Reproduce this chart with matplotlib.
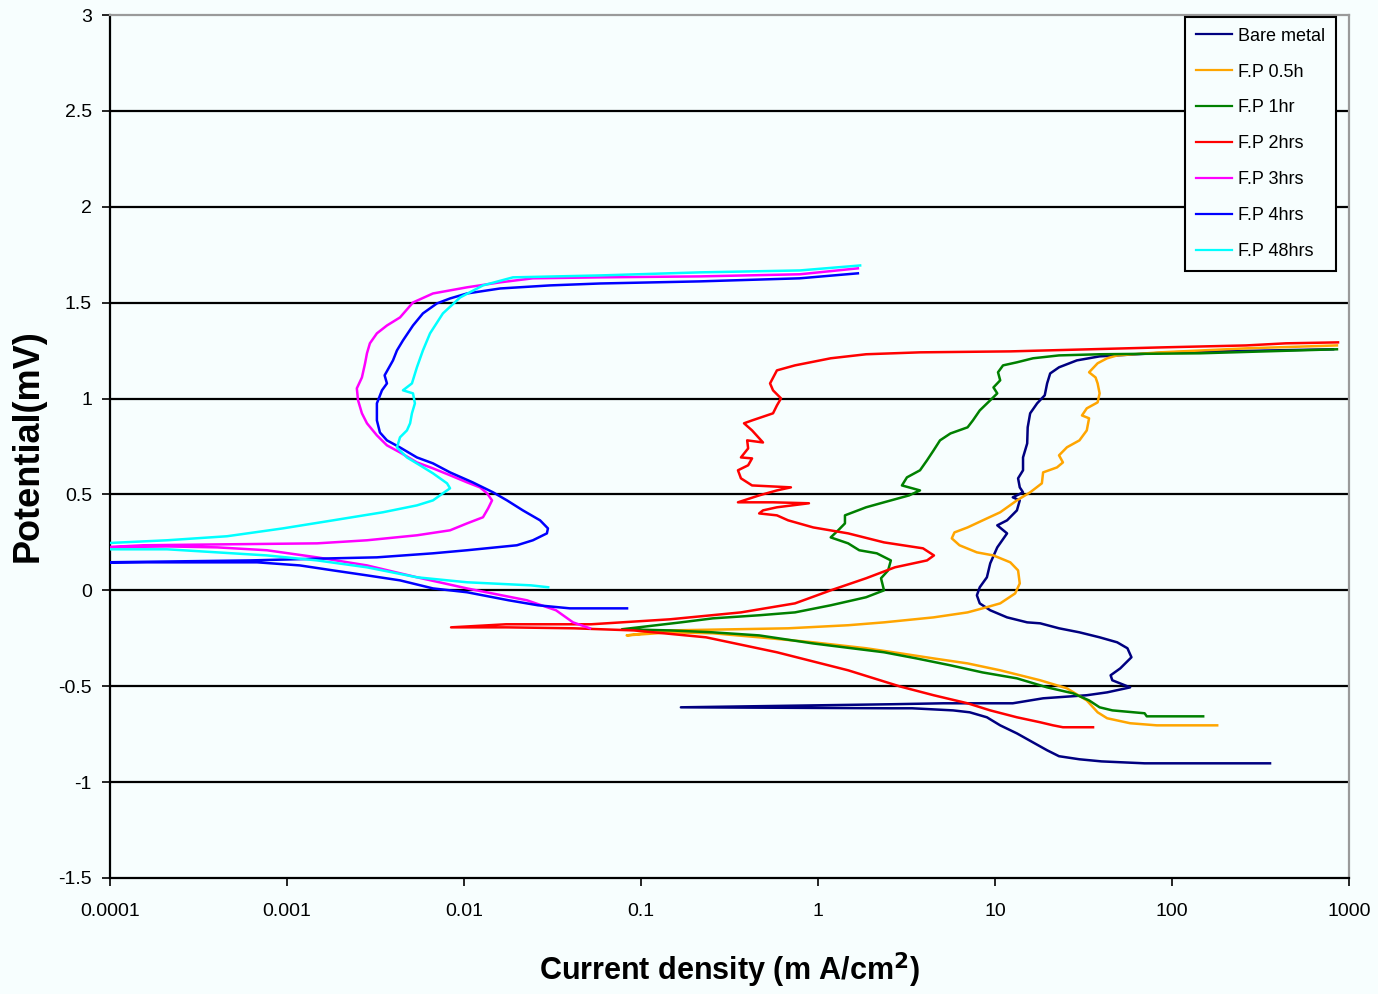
import matplotlib
matplotlib.use("Agg")
import matplotlib.pyplot as plt
from matplotlib.ticker import FixedLocator, NullLocator

plt.rcParams['font.family'] = ['Liberation Sans', 'DejaVu Sans']

# ---------------- data (current density mA/cm2, potential) ----------------
bare_i = [358, 70, 40, 30, 23, 19.7, 16.4, 13.3, 10.7, 9.0, 7.2, 5.8, 3.4, 2.6, 0.168, 2.58, 5.1, 12.6,
          18.7, 33, 43, 58, 46, 45, 51, 59, 56, 49, 39, 30, 23, 18, 15.2, 11.7, 9.4, 8.2, 7.9, 8.2, 9.0,
          9.4, 10.3, 11.7, 10.3, 11.7, 13.3, 13.8, 12.6, 14.4, 13.8, 13.5, 14.4, 14.4, 15.2, 15.3, 15.8,
          17.3, 19.1, 19.7, 20.5, 23, 29, 39, 97, 813]
bare_e = [-0.902, -0.902, -0.892, -0.881, -0.865, -0.834, -0.793, -0.746, -0.704, -0.662, -0.636, -0.626,
          -0.615, -0.615, -0.610, -0.594, -0.589, -0.589, -0.563, -0.547, -0.532, -0.506, -0.469, -0.443,
          -0.407, -0.349, -0.302, -0.271, -0.245, -0.219, -0.198, -0.172, -0.167, -0.141, -0.104, -0.068,
          -0.026, 0.016, 0.068, 0.141, 0.224, 0.297, 0.339, 0.365, 0.417, 0.469, 0.485, 0.511, 0.537,
          0.584, 0.626, 0.693, 0.766, 0.850, 0.923, 0.975, 1.017, 1.079, 1.131, 1.163, 1.199, 1.220,
          1.241, 1.257]

fp05_i = [180, 82, 58, 43, 38, 33, 25.5, 18, 10.7, 7.0, 4.5, 2.9, 1.87, 0.94, 0.465, 0.255, 0.146,
          0.083, 0.146, 0.678, 1.48, 2.36, 4.5, 7.0, 8.5, 10.7, 13.0, 13.8, 13.5, 12.2, 9.8, 7.9, 6.3,
          5.7, 5.9, 7.0, 9.0, 10.7, 13.3, 15.8, 18.4, 18.7, 22.4, 24.2, 23, 25.5, 30, 33, 34, 31, 33,
          38, 39, 38, 37, 34, 38, 43, 49, 86, 265, 855]
fp05_e = [-0.704, -0.704, -0.693, -0.667, -0.636, -0.574, -0.511, -0.469, -0.417, -0.381, -0.355,
          -0.328, -0.302, -0.271, -0.245, -0.224, -0.219, -0.235, -0.209, -0.198, -0.182, -0.167,
          -0.141, -0.115, -0.094, -0.068, -0.016, 0.036, 0.104, 0.146, 0.182, 0.198, 0.235, 0.271,
          0.302, 0.328, 0.375, 0.407, 0.469, 0.511, 0.558, 0.615, 0.641, 0.667, 0.704, 0.746, 0.782,
          0.834, 0.897, 0.912, 0.949, 0.980, 1.027, 1.079, 1.110, 1.137, 1.184, 1.210, 1.225, 1.241,
          1.262, 1.277]

fp1_i = [150, 72, 70, 46, 39, 34, 27.6, 19.7, 13.3, 8.5, 5.6, 3.6, 2.36, 0.94, 0.465, 0.255, 0.146,
         0.078, 0.168, 0.255, 0.465, 0.741, 1.18, 1.87, 2.36, 2.27, 2.49, 2.58, 2.15, 1.71, 1.48, 1.18,
         1.30, 1.42, 1.42, 1.87, 2.36, 3.27, 3.77, 2.98, 3.18, 3.77, 4.13, 4.5, 4.89, 5.6, 7.0, 7.5,
         8.2, 9.4, 10.3, 9.8, 10.7, 10.4, 11.1, 13.3, 16.4, 23, 39, 144, 855]
fp1_e = [-0.657, -0.657, -0.641, -0.626, -0.610, -0.574, -0.537, -0.506, -0.459, -0.428, -0.391,
         -0.355, -0.323, -0.277, -0.235, -0.219, -0.209, -0.203, -0.167, -0.146, -0.130, -0.115,
         -0.078, -0.036, 0.0, 0.063, 0.104, 0.156, 0.193, 0.209, 0.245, 0.276, 0.313, 0.349, 0.391,
         0.433, 0.459, 0.495, 0.521, 0.547, 0.589, 0.626, 0.678, 0.730, 0.782, 0.818, 0.850, 0.886,
         0.938, 0.991, 1.027, 1.058, 1.095, 1.137, 1.173, 1.189, 1.210, 1.225, 1.231, 1.236, 1.257]

fp2_i = [35.8, 24.2, 21.3, 18, 13.3, 9.4, 7.0, 4.5, 2.9, 1.48, 0.586, 0.233, 0.091, 0.0418, 0.0173,
         0.00845, 0.0173, 0.0522, 0.146, 0.367, 0.741, 1.18, 1.87, 2.72, 4.13, 4.52, 3.92, 2.36, 1.48,
         0.94, 0.678, 0.586, 0.465, 0.489, 0.586, 0.889, 0.557, 0.353, 0.465, 0.586, 0.703, 0.424,
         0.367, 0.353, 0.403, 0.424, 0.367, 0.403, 0.398, 0.489, 0.424, 0.382, 0.424, 0.557, 0.586,
         0.618, 0.557, 0.536, 0.586, 0.741, 1.18, 1.87, 3.77, 12.2, 89, 262, 440, 867]
fp2_e = [-0.714, -0.714, -0.704, -0.688, -0.662, -0.626, -0.589, -0.547, -0.501, -0.417, -0.323,
         -0.245, -0.209, -0.198, -0.193, -0.193, -0.177, -0.177, -0.151, -0.115, -0.068, 0.0, 0.063,
         0.120, 0.156, 0.182, 0.219, 0.250, 0.297, 0.328, 0.365, 0.391, 0.401, 0.417, 0.433, 0.454,
         0.459, 0.459, 0.495, 0.521, 0.537, 0.547, 0.584, 0.626, 0.652, 0.688, 0.693, 0.740, 0.782,
         0.771, 0.834, 0.871, 0.886, 0.923, 0.964, 1.001, 1.043, 1.079, 1.147, 1.173, 1.210, 1.231,
         1.241, 1.246, 1.267, 1.277, 1.288, 1.293]

fp3_i = [0.0515, 0.0413, 0.0331, 0.0227, 0.0104, 0.00542, 0.00283, 0.00148, 0.00077, 0.000403,
         0.00021, 0.00009, 0.000154, 0.000458, 0.00148, 0.00283, 0.00542, 0.00834, 0.0104, 0.0128,
         0.0137, 0.0144, 0.0135, 0.0123, 0.0104, 0.00834, 0.00668, 0.00542, 0.00435, 0.00367, 0.00322,
         0.00283, 0.00265, 0.00252, 0.00248, 0.00265, 0.00276, 0.00283, 0.00294, 0.00322, 0.00367,
         0.00435, 0.00515, 0.00668, 0.0104, 0.0160, 0.0245, 0.0586, 0.215, 0.79, 1.68]
fp3_e = [-0.198, -0.167, -0.104, -0.052, 0.010, 0.068, 0.130, 0.172, 0.209, 0.224, 0.229, 0.224, 0.235,
         0.240, 0.245, 0.261, 0.287, 0.313, 0.349, 0.381, 0.428, 0.469, 0.506, 0.537, 0.563, 0.600,
         0.636, 0.667, 0.719, 0.756, 0.808, 0.871, 0.923, 0.991, 1.053, 1.110, 1.183, 1.236, 1.288,
         1.340, 1.381, 1.423, 1.501, 1.548, 1.580, 1.606, 1.627, 1.632, 1.637, 1.648, 1.679]

fp4_i = [0.0834, 0.0397, 0.0262, 0.0179, 0.0104, 0.00668, 0.00435, 0.00283, 0.00182, 0.00118,
         0.000678, 0.00009, 0.000618, 0.00182, 0.00322, 0.00668, 0.0104, 0.0199, 0.0245, 0.0294,
         0.0298, 0.0269, 0.0215, 0.0175, 0.0146, 0.0112, 0.00834, 0.00668, 0.00542, 0.00435, 0.00367,
         0.00335, 0.00322, 0.00322, 0.00344, 0.00367, 0.00356, 0.00397, 0.00418, 0.00452, 0.00515,
         0.00586, 0.00703, 0.00834, 0.0104, 0.016, 0.0306, 0.0586, 0.215, 0.79, 1.68]
fp4_e = [-0.094, -0.094, -0.078, -0.052, -0.010, 0.010, 0.052, 0.078, 0.104, 0.130, 0.146, 0.146,
         0.156, 0.167, 0.172, 0.193, 0.209, 0.235, 0.261, 0.297, 0.323, 0.365, 0.417, 0.469, 0.511,
         0.563, 0.615, 0.662, 0.693, 0.745, 0.782, 0.823, 0.886, 0.975, 1.043, 1.079, 1.121, 1.199,
         1.251, 1.303, 1.381, 1.444, 1.496, 1.522, 1.548, 1.574, 1.590, 1.600, 1.611, 1.627, 1.653]

fp48_i = [0.0299, 0.0239, 0.0104, 0.00542, 0.00283, 0.00148, 0.00077, 0.000403, 0.00021, 0.00009,
          0.00009, 0.00021, 0.000458, 0.000948, 0.00182, 0.00348, 0.00542, 0.00668, 0.0076, 0.00834,
          0.00802, 0.00668, 0.00564, 0.00476, 0.00418, 0.00435, 0.00476, 0.00496, 0.00508, 0.00528,
          0.00515, 0.00452, 0.00508, 0.00542, 0.00586, 0.00643, 0.0076, 0.0095, 0.0128, 0.0189,
          0.0586, 0.215, 0.79, 1.73]
fp48_e = [0.016, 0.026, 0.042, 0.068, 0.120, 0.156, 0.182, 0.198, 0.214, 0.214, 0.245, 0.261, 0.282,
          0.323, 0.365, 0.407, 0.443, 0.469, 0.506, 0.532, 0.558, 0.610, 0.652, 0.693, 0.745, 0.798,
          0.834, 0.871, 0.923, 0.975, 1.027, 1.043, 1.079, 1.163, 1.251, 1.340, 1.444, 1.527, 1.590,
          1.632, 1.642, 1.658, 1.668, 1.694]

series_labels = ["Bare metal", "F.P 0.5h", "F.P 1hr", "F.P 2hrs", "F.P 3hrs", "F.P 4hrs", "F.P 48hrs"]
series_colors = ["#000080", "#FFA500", "#008000", "#FF0000", "#FF00FF", "#0000FF", "#00FFFF"]

x_ticks = [0.0001, 0.001, 0.01, 0.1, 1, 10, 100, 1000]
x_tick_labels = ["0.0001", "0.001", "0.01", "0.1", "1", "10", "100", "1000"]
y_ticks = [-1.5, -1, -0.5, 0, 0.5, 1, 1.5, 2, 2.5, 3]
y_tick_labels = ["-1.5", "-1", "-0.5", "0", "0.5", "1", "1.5", "2", "2.5", "3"]

# ---------------- figure ----------------
bg = "#F7FEFE"
fig = plt.figure(figsize=(13.78, 9.94), dpi=100, facecolor=bg)
ax = fig.add_axes([110 / 1378, 116 / 994, 1239 / 1378, 863 / 994], facecolor=bg)

ax.set_xscale("log")
ax.set_xlim(0.0001, 1000)
ax.set_ylim(-1.5, 3)

for yv in y_ticks[1:-1]:
    ax.axhline(yv, color="black", lw=1.6, zorder=1)

data = [(bare_i, bare_e), (fp05_i, fp05_e), (fp1_i, fp1_e), (fp2_i, fp2_e),
        (fp3_i, fp3_e), (fp4_i, fp4_e), (fp48_i, fp48_e)]
for (xi, ye), lab, col in zip(data, series_labels, series_colors):
    ax.plot(xi, ye, color=col, lw=1.8, label=lab, zorder=3)

ax.xaxis.set_major_locator(FixedLocator(x_ticks))
ax.xaxis.set_minor_locator(NullLocator())
ax.set_xticklabels(x_tick_labels)
ax.yaxis.set_major_locator(FixedLocator(y_ticks))
ax.set_yticklabels(y_tick_labels)

ax.tick_params(axis="both", direction="out", length=6, width=1.2, color="black",
               labelsize=14, pad=7)
ax.tick_params(axis="x", pad=12)

for side in ["left", "bottom"]:
    ax.spines[side].set_color("black")
    ax.spines[side].set_linewidth(1.6)
for side in ["top", "right"]:
    ax.spines[side].set_color("#9a9a9a")
    ax.spines[side].set_linewidth(1.6)

fig.text(28 / 1378, 1 - 446 / 994, "Potential(mV)", rotation=90, fontsize=26,
         fontweight="bold", ha="center", va="center")
fig.text(729 / 1378, 1 - 970 / 994, "Current density (m A/cm$^\\mathbf{2}$)", fontsize=22,
         fontweight="bold", ha="center", va="center")

leg = ax.legend(loc="upper right", bbox_to_anchor=(0.9895, 0.998), fontsize=13,
                frameon=True, fancybox=False, shadow=False, handlelength=2.0,
                handletextpad=0.35, labelspacing=1.05, borderpad=0.6, borderaxespad=0.0)
leg.get_frame().set_edgecolor("black")
leg.get_frame().set_linewidth(1.5)
leg.get_frame().set_facecolor(bg)
leg.get_frame().set_alpha(1.0)
for line in leg.get_lines():
    line.set_linewidth(1.6)

fig.savefig("out.png", dpi=100, facecolor=bg)
